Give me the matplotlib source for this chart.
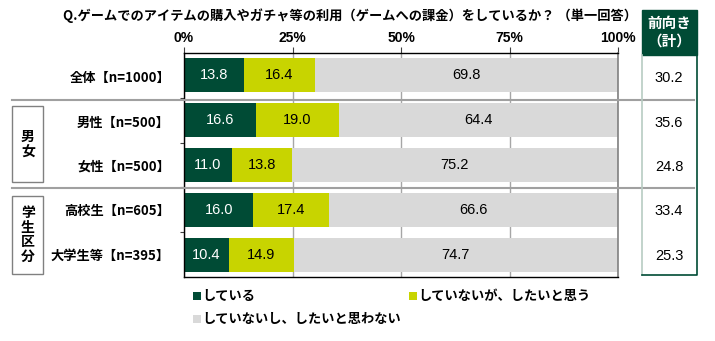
#!/usr/bin/env python3

import matplotlib as mpl
mpl.use('Agg')
from matplotlib import pyplot as plt
from matplotlib.patches import Rectangle
from matplotlib.lines import Line2D

plt.rcParams['font.family'] = ['Noto Sans CJK JP', 'DejaVu Sans']

title = 'Q.ゲームでのアイテムの購入やガチャ等の利用（ゲームへの課金）をしているか？ （単一回答）'
rows = ['全体【n=1000】', '男性【n=500】', '女性【n=500】', '高校生【n=605】', '大学生等【n=395】']
doing = [13.8, 16.6, 11.0, 16.0, 10.4]
want = [16.4, 19.0, 13.8, 17.4, 14.9]
no = [69.8, 64.4, 75.2, 66.6, 74.7]
positive = [30.2, 35.6, 24.8, 33.4, 25.3]
series = ['している', 'していないが、したいと思う', 'していないし、したいと思わない']
xticks = [0, 25, 50, 75, 100]
groups = ['男\n女', '学\n生\n区\n分']

colors = ['#004B35', '#C8D400', '#D9D9D9']
W, H = 715, 341

def fx(px):
    return px / W

def fy(py):
    return 1 - py / H

fig = plt.figure(figsize=(W / 100, H / 100), dpi=100)
ax = fig.add_axes([fx(184), fy(277), fx(618) - fx(184), fy(53) - fy(277)])

ypos = list(range(len(rows)))
left = [0] * len(rows)
for vals, col in zip([doing, want, no], colors):
    ax.barh(ypos, vals, left=left, height=0.76, color=col, zorder=2)
    for y, v, l in zip(ypos, vals, left):
        tc = 'white' if col == colors[0] else 'black'
        ax.text(l + v / 2, y, f'{v:.1f}', ha='center', va='center', color=tc,
                fontsize=10.5, family=['Liberation Sans', 'DejaVu Sans'], zorder=3)
    left = [a + b for a, b in zip(left, vals)]

ax.set_xlim(0, 100)
ax.set_ylim(len(rows) - 0.5, -0.5)
ax.xaxis.tick_top()
ax.set_xticks(xticks)
ax.set_xticklabels([f'{t}%' for t in xticks], fontsize=10, fontweight='bold',
                   family=['Liberation Sans', 'DejaVu Sans'])
ax.tick_params(axis='x', length=4, width=0.8, color='#404040', pad=2)
ax.set_yticks([0.5, 1.5, 2.5, 3.5])
ax.set_yticklabels([])
ax.tick_params(axis='y', length=3, width=0.8, color='#404040')
ax.grid(axis='x', color='#A6A6A6', linewidth=1, zorder=0)
ax.set_axisbelow(True)
for s in ['top', 'bottom', 'left']:
    ax.spines[s].set_color('black')
    ax.spines[s].set_linewidth(1)
ax.spines['right'].set_color('#808080')
ax.spines['right'].set_linewidth(1.2)

# row labels
row_py = [78, 123, 167, 211, 256]
for lab, py in zip(rows, row_py):
    fig.text(fx(170), fy(py), lab, ha='right', va='center', fontsize=9.5, fontweight='bold')

# title
fig.text(fx(350), fy(16), title, ha='center', va='center', fontsize=9.5, fontweight='bold')

# separators
for py in [100, 188]:
    fig.add_artist(Line2D([fx(12), fx(694)], [fy(py), fy(py)], color='#A0A0A0', linewidth=1.5, zorder=1))

# group boxes
for lab, (t, btm) in zip(groups, [(106, 182), (196, 274)]):
    fig.add_artist(Rectangle((fx(12), fy(btm)), fx(43) - fx(12), fy(t) - fy(btm),
                             facecolor='white', edgecolor='#808080', linewidth=1))
    fig.text(fx(28), fy((t + btm) / 2), lab, ha='center', va='center', fontsize=10,
             fontweight='bold', linespacing=1.05)

# right column
fig.add_artist(Rectangle((fx(642), fy(55)), fx(697) - fx(642), fy(10) - fy(55),
                         facecolor='#004B35', edgecolor='#004B35', linewidth=1))
fig.text(fx(669), fy(32), '前向き\n（計）', ha='center', va='center', color='white',
         fontsize=10.5, fontweight='bold', linespacing=1.1)
fig.add_artist(Line2D([fx(642), fx(642)], [fy(55), fy(275)], color='#B8CCC2', linewidth=1.2))
fig.add_artist(Line2D([fx(697), fx(697), fx(642)], [fy(55), fy(275), fy(275)], color='#004B35', linewidth=1.2))
for v, py in zip(positive, row_py):
    fig.text(fx(669), fy(py), f'{v:.1f}', ha='center', va='center', fontsize=10.5,
             family=['Liberation Sans', 'DejaVu Sans'])

# legend
leg_pos = [(197, 296), (413, 296), (197, 319)]
for lab, col, (px, py) in zip(series, colors, leg_pos):
    fig.add_artist(Rectangle((fx(px - 4), fy(py + 4)), fx(8), 8 / H, facecolor=col, edgecolor='none'))
    fig.text(fx(px + 5), fy(py), lab, ha='left', va='center', fontsize=9.5, fontweight='bold')

fig.savefig('out.png', dpi=100)
